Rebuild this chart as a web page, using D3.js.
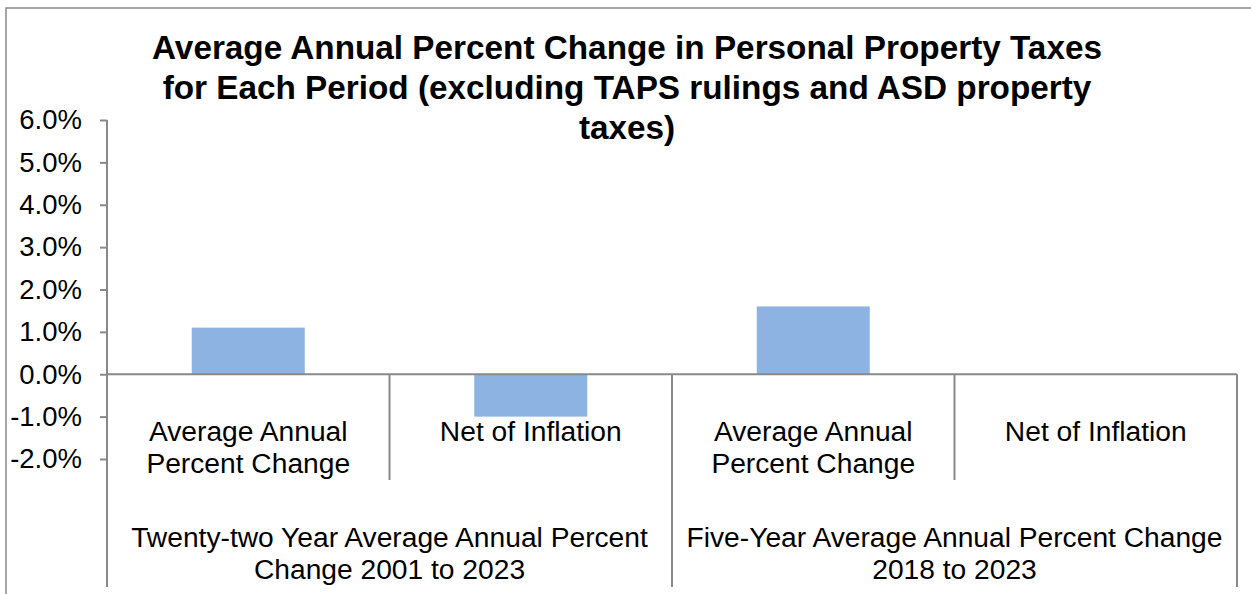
<!DOCTYPE html>
<html>
<head>
<meta charset="utf-8">
<script src="https://cdn.jsdelivr.net/npm/d3@7"></script>
<style>
  body { margin: 0; background: #fff; }
  text { font-family: "Liberation Sans", Arial, sans-serif; fill: #000; }
</style>
</head>
<body>
<script>
// chart data
const titleLines = [
  "Average Annual Percent Change in Personal Property Taxes",
  "for Each Period (excluding TAPS rulings and ASD property",
  "taxes)"
];
const groups = ["g1", "g2"];
const groupLabels = [
  ["Twenty-two Year Average Annual Percent", "Change 2001 to 2023"],
  ["Five-Year Average Annual Percent Change", "2018 to 2023"]
];
const categories = ["g1-avg", "g1-net", "g2-avg", "g2-net"];
const categoryGroup = ["g1", "g1", "g2", "g2"];
const categoryLabels = [
  ["Average Annual", "Percent Change"],
  ["Net of Inflation"],
  ["Average Annual", "Percent Change"],
  ["Net of Inflation"]
];
const values = [0.011, -0.010, 0.016, 0.0];
const yTicks = [-0.02, -0.01, 0, 0.01, 0.02, 0.03, 0.04, 0.05, 0.06];

const width = 1251;
const height = 594;
const axisColor = "#898989";
const labelSize = 28.2;

const svg = d3.select("body").append("svg")
  .attr("width", width)
  .attr("height", height);

// outer chart border (cut off at right / bottom like the reference)
svg.append("rect")
  .attr("x", 6).attr("y", 8)
  .attr("width", 1300).attr("height", 650)
  .attr("fill", "none")
  .attr("stroke", axisColor)
  .attr("stroke-width", 1.5);

// title
svg.append("g")
  .selectAll("text")
  .data(titleLines)
  .join("text")
  .attr("x", 627)
  .attr("y", (d, i) => 59 + i * 40)
  .attr("text-anchor", "middle")
  .attr("font-size", 33.3)
  .attr("font-weight", "bold")
  .text(d => d);

const left = 107, right = 1237;
const y = d3.scaleLinear().domain([-0.02, 0.06]).range([459, 120]);
const xCat = d3.scaleBand().domain(categories).range([left, right]);
const xBar = d3.scaleBand().domain(categories).range([left, right])
  .paddingInner(0.6).paddingOuter(0.3);
const xGroup = d3.scaleBand().domain(groups).range([left, right]);

const fmt = d3.formatLocale({
  decimal: ".", thousands: ",", grouping: [3], currency: ["$", ""], minus: "-"
}).format(".1%");

// y axis
const yAxis = svg.append("g")
  .attr("transform", `translate(${left},0)`)
  .call(d3.axisLeft(y).tickValues(yTicks).tickFormat(fmt).tickSize(7).tickPadding(18));
yAxis.select(".domain").remove();
yAxis.selectAll(".tick line").attr("stroke", axisColor).attr("stroke-width", 2);
yAxis.selectAll(".tick text")
  .attr("font-size", 27.5)
  .attr("font-family", "Liberation Sans, Arial, sans-serif")
  .attr("fill", "#000");

// bars
svg.append("g")
  .selectAll("rect")
  .data(values)
  .join("rect")
  .attr("x", (d, i) => xBar(categories[i]))
  .attr("width", xBar.bandwidth())
  .attr("y", d => y(Math.max(0, d)))
  .attr("height", d => Math.abs(y(d) - y(0)))
  .attr("fill", "#8DB3E2");

// axis lines
const lines = svg.append("g")
  .attr("stroke", axisColor)
  .attr("stroke-width", 2);
lines.append("line")
  .attr("x1", left).attr("x2", left)
  .attr("y1", y(0.06)).attr("y2", 587);
lines.append("line")
  .attr("x1", left).attr("x2", right)
  .attr("y1", y(0)).attr("y2", y(0));
// dividers between categories inside a group
lines.selectAll(".inner")
  .data(categories.filter((c, i) => i > 0 && categoryGroup[i] === categoryGroup[i - 1]))
  .join("line")
  .attr("x1", d => xCat(d)).attr("x2", d => xCat(d))
  .attr("y1", y(0)).attr("y2", 480);
// dividers between groups
lines.selectAll(".outer")
  .data(groups.slice(1).map(g => xGroup(g)).concat([right]))
  .join("line")
  .attr("x1", d => d).attr("x2", d => d)
  .attr("y1", y(0)).attr("y2", 587);

// category labels
svg.append("g")
  .selectAll("text")
  .data(categories)
  .join("text")
  .attr("text-anchor", "middle")
  .attr("font-size", labelSize)
  .each(function (d, i) {
    d3.select(this).selectAll("tspan")
      .data(categoryLabels[i])
      .join("tspan")
      .attr("x", xCat(d) + xCat.bandwidth() / 2)
      .attr("y", (t, j) => 441 + j * 31.5)
      .text(t => t);
  });

// group labels
svg.append("g")
  .selectAll("text")
  .data(groups)
  .join("text")
  .attr("text-anchor", "middle")
  .attr("font-size", labelSize)
  .each(function (d, i) {
    d3.select(this).selectAll("tspan")
      .data(groupLabels[i])
      .join("tspan")
      .attr("x", xGroup(d) + xGroup.bandwidth() / 2)
      .attr("y", (t, j) => 547 + j * 31.5)
      .text(t => t);
  });
</script>
</body>
</html>
